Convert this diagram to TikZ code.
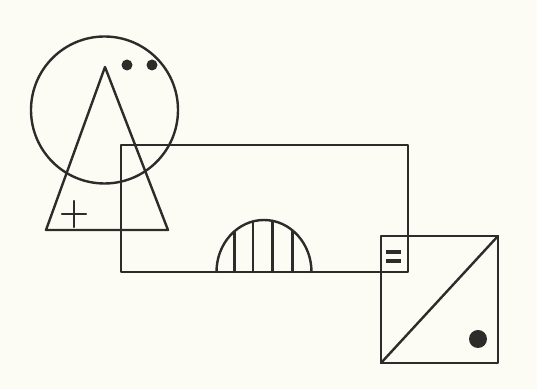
\documentclass[tikz,border=0pt]{standalone}
\usepackage{tikz}
\definecolor{paper}{HTML}{FCFCF4}
\definecolor{ink}{HTML}{2E2B2B}
\begin{document}
\begin{tikzpicture}[x=0.5pt,y=-0.5pt,
  stroke/.style={draw=ink,line width=1.2pt,line join=round,line cap=round},
  blob/.style={fill=ink,draw=none}]
\fill[paper] (0,0) rectangle (537,389);
\useasboundingbox (0,0) rectangle (537,389);
% head circle
\draw[stroke] (104.5,110) circle[radius=73.5];
% eyes
\fill[blob] (127,65) circle[radius=5.5];
\fill[blob] (152,65) circle[radius=5.5];
% triangle
\draw[stroke] (105,67) -- (168,230) -- (46,230) -- cycle;
% plus
\draw[stroke] (62,214) -- (86,214);
\draw[stroke] (74,201) -- (74,227);
% big rectangle
\draw[stroke] (121,145) rectangle (408,272);
% half dome
\draw[stroke] (216.5,272) arc[start angle=180,end angle=360,x radius=47.5,y radius=52];
\foreach \xx in {234.5,253,272.5,292.5}{
  \pgfmathsetmacro\dy{52*sqrt(1-((\xx-264)/47.5)^2)}
  \draw[stroke] (\xx,272) -- (\xx,272-\dy);
}
% square
\draw[stroke] (381,236) rectangle (498,363);
\draw[stroke] (381,363) -- (498,236);
% equals sign
\draw[ink,line width=1.7pt] (386,252) -- (401,252);
\draw[ink,line width=1.7pt] (386,261) -- (401,261);
% dark dot
\fill[blob] (478,339) circle[radius=9];
\end{tikzpicture}
\end{document}
